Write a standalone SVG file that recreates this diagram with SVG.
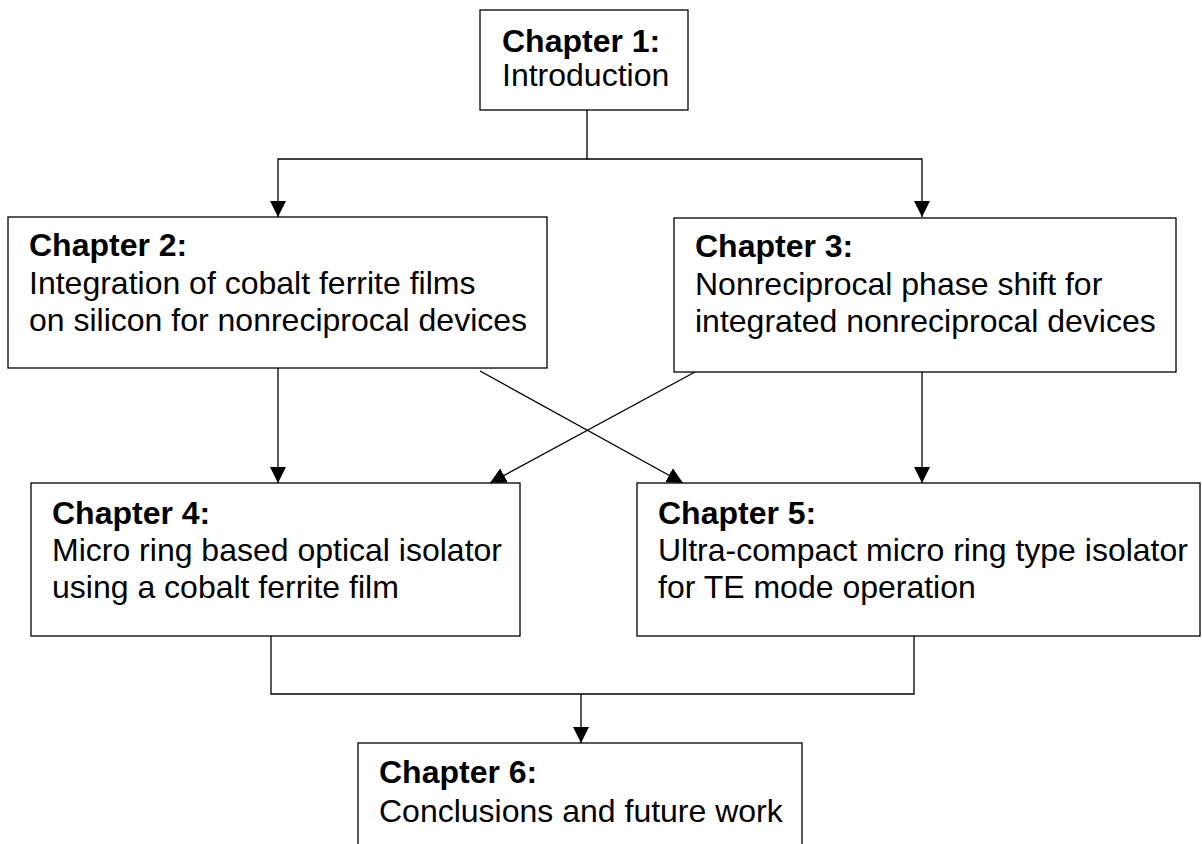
<svg xmlns="http://www.w3.org/2000/svg" width="1202" height="844" viewBox="0 0 1202 844">
  <style>
    .box { fill: #ffffff; stroke: #000000; stroke-width: 1.3; }
    .con { fill: none; stroke: #000000; stroke-width: 1.3; }
    .t { font-family: "Liberation Sans", Arial, sans-serif; font-size: 32px; fill: #000000; }
    .b { font-weight: bold; }
  </style>
  <defs>
    <marker id="arr" markerUnits="userSpaceOnUse" markerWidth="16" markerHeight="16" refX="15" refY="7.5" orient="auto" viewBox="0 0 15 15">
      <path d="M0,0 L15,7.5 L0,15 Z" fill="#000000"/>
    </marker>
  </defs>
  <rect x="0" y="0" width="1202" height="844" fill="#ffffff"/>

  <g id="connectors">
    <polyline class="con" points="587,110 587,159 278,159 278,217" marker-end="url(#arr)"/>
    <polyline class="con" points="587,159 922,159 922,217" marker-end="url(#arr)"/>
    <line class="con" x1="278" y1="368" x2="278" y2="483" marker-end="url(#arr)"/>
    <line class="con" x1="922" y1="372" x2="922" y2="483" marker-end="url(#arr)"/>
    <line class="con" x1="480" y1="371" x2="683" y2="483" marker-end="url(#arr)"/>
    <line class="con" x1="695" y1="372" x2="490" y2="483" marker-end="url(#arr)"/>
    <polyline class="con" points="271,636 271,694 914,694 914,636"/>
    <line class="con" x1="581" y1="694" x2="581" y2="743" marker-end="url(#arr)"/>
  </g>

  <g id="chapter1">
    <rect class="box" x="480" y="10" width="208" height="100"/>
    <text class="t b" x="502" y="52">Chapter 1:</text>
    <text class="t" x="502" y="86">Introduction</text>
  </g>

  <g id="chapter2">
    <rect class="box" x="8" y="217" width="539" height="151"/>
    <text class="t b" x="29" y="256">Chapter 2:</text>
    <text class="t" x="29" y="294">Integration of cobalt ferrite films</text>
    <text class="t" x="29" y="331">on silicon for nonreciprocal devices</text>
  </g>

  <g id="chapter3">
    <rect class="box" x="674" y="218" width="502" height="154"/>
    <text class="t b" x="695" y="257">Chapter 3:</text>
    <text class="t" x="695" y="295">Nonreciprocal phase shift for</text>
    <text class="t" x="695" y="332">integrated nonreciprocal devices</text>
  </g>

  <g id="chapter4">
    <rect class="box" x="31" y="483" width="489" height="153"/>
    <text class="t b" x="52" y="524">Chapter 4:</text>
    <text class="t" x="52" y="561">Micro ring based optical isolator</text>
    <text class="t" x="52" y="598">using a cobalt ferrite film</text>
  </g>

  <g id="chapter5">
    <rect class="box" x="637" y="483" width="563" height="153"/>
    <text class="t b" x="658" y="524">Chapter 5:</text>
    <text class="t" x="658" y="561">Ultra-compact micro ring type isolator</text>
    <text class="t" x="658" y="598">for TE mode operation</text>
  </g>

  <g id="chapter6">
    <rect class="box" x="358" y="743" width="444" height="130"/>
    <text class="t b" x="379" y="783">Chapter 6:</text>
    <text class="t" x="379" y="822">Conclusions and future work</text>
  </g>
</svg>
